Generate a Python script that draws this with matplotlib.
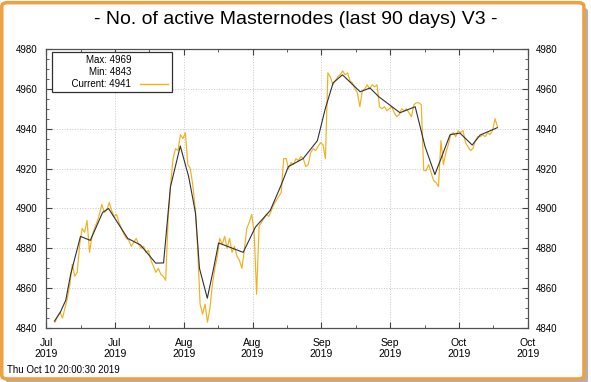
import matplotlib
matplotlib.use("Agg")
import matplotlib.pyplot as plt
import matplotlib.dates as mdates
from matplotlib.lines import Line2D
from matplotlib.patches import FancyBboxPatch
import numpy as np
import pandas as pd

plt.rcParams['font.family'] = ['Liberation Sans', 'DejaVu Sans']

# raw samples, one every 12 hours, first one Jul 11 20:00, last one Oct 10 20:00
raw_start = "2019-07-11 20:00"
raw_values = [
    4843, 4846, 4848, 4845, 4850, 4855, 4862, 4872, 4866, 4868,
    4882, 4890, 4888, 4894, 4878, 4886, 4890, 4893, 4897, 4902,
    4898, 4899, 4903, 4899, 4896, 4897, 4893, 4890, 4887, 4885,
    4884, 4881, 4883, 4885, 4882, 4880, 4881, 4878, 4879, 4874,
    4871, 4868, 4870, 4867, 4866, 4864, 4895, 4912, 4925, 4930,
    4929, 4937, 4935, 4938, 4922, 4920, 4912, 4900, 4880, 4852,
    4847, 4852, 4843, 4850, 4862, 4870, 4876, 4885, 4882, 4886,
    4880, 4885, 4878, 4881, 4876, 4874, 4870, 4879, 4890, 4893,
    4897, 4888, 4857, 4891, 4893, 4895, 4897, 4896, 4899, 4902,
    4904, 4906, 4908, 4925, 4925, 4920, 4923, 4922, 4925, 4924,
    4926, 4925, 4921, 4922, 4928, 4930, 4929, 4931, 4933, 4932,
    4925, 4968, 4966, 4962, 4964, 4966, 4967, 4969, 4967, 4968,
    4964, 4963, 4960, 4958, 4951, 4959, 4960, 4962, 4960, 4962,
    4961, 4962, 4951, 4950, 4951, 4949, 4950, 4951, 4948, 4946,
    4947, 4950, 4949, 4950, 4948, 4946, 4952, 4953, 4953, 4952,
    4919, 4919, 4922, 4918, 4914, 4913, 4911, 4934, 4922, 4928,
    4932, 4937, 4938, 4936, 4939, 4938, 4939, 4933, 4931, 4929,
    4930, 4934, 4936, 4936, 4937, 4936, 4938, 4937, 4939, 4945,
    4941,
]

# smoothed line: days after Jul 10 and value
smooth_days = [1.7, 2.9, 4.0, 5.0, 7.0, 9.0, 11.5, 12.7, 16.6, 19.2,
               22.3, 23.9, 25.3, 27.3, 29.0, 30.4, 31.2, 32.8, 34.0, 35.1,
               40.1, 42.6, 45.6, 47.7, 49.3, 52.3, 55.2, 56.8, 58.4, 60.3,
               63.9, 65.9, 67.7, 72.0, 75.1, 77.1, 79.1, 82.2, 84.2, 86.7,
               88.3, 91.8]
smooth_values = [4843.5, 4848, 4854, 4867, 4886, 4884, 4898, 4900, 4885, 4881.7,
                 4872.6, 4872.7, 4910.8, 4931.3, 4916, 4897.7, 4870, 4855, 4869, 4882.7,
                 4878, 4890.7, 4899, 4911, 4921, 4925, 4934, 4950, 4963, 4967,
                 4958.5, 4960.4, 4956, 4948, 4951, 4931, 4917, 4937, 4937.8, 4931.8,
                 4936.8, 4940.5]

tick_dates = ["2019-07-10", "2019-07-24", "2019-08-07", "2019-08-21",
              "2019-09-04", "2019-09-18", "2019-10-02", "2019-10-16"]

stamp = "Thu Oct 10 20:00:30 2019"

raw_t = pd.Timestamp(raw_start) + pd.to_timedelta(np.arange(len(raw_values)) * 12, unit="h")
smooth_t = pd.Timestamp("2019-07-10") + pd.to_timedelta(smooth_days, unit="D")
ticks = pd.to_datetime(tick_dates)

fig = plt.figure(figsize=(5.91, 3.82), dpi=100)
fig.patch.set_facecolor("white")

# orange frame with a soft shadow
shadow = FancyBboxPatch((0.010, -0.005), 0.985, 0.985, boxstyle="round,pad=0,rounding_size=0.01",
                        transform=fig.transFigure, facecolor="#b0b0b0", edgecolor="none", zorder=-3)
frame = FancyBboxPatch((0.003, 0.008), 0.985, 0.985, boxstyle="round,pad=0,rounding_size=0.01",
                       transform=fig.transFigure, facecolor="white", edgecolor="#f0a040",
                       linewidth=2.5, zorder=-2)
fig.patches.extend([shadow, frame])

ax = fig.add_axes([0.078, 0.141, 0.815, 0.731])
ax.set_facecolor("none")

ax.plot(raw_t, raw_values, color="#f2b01e", lw=0.85, zorder=2)
ax.plot(smooth_t, smooth_values, color="#30303c", lw=0.8, zorder=3)

ax.set_xlim(ticks[0], ticks[-1])
ax.set_ylim(4840, 4980)
ax.set_xticks(ticks)
ax.xaxis.set_major_formatter(mdates.DateFormatter("%b\n%Y"))
ax.set_xticks(ticks[:-1] + pd.Timedelta(days=7), minor=True)
ax.set_yticks(np.arange(4840, 4981, 20))
ax.set_yticks(np.arange(4840, 4981, 5), minor=True)

ax.grid(True, which="major", color="#c8c8c8", linestyle=":", linewidth=0.7)
ax.tick_params(which="both", direction="in", top=True, right=True, labelright=True,
               labelsize=7, color="#404040", pad=6)
ax.tick_params(which="major", length=4.5)
ax.tick_params(which="minor", length=2.5)
ax.tick_params(axis="x", labelsize=7.5, pad=7)
for s in ax.spines.values():
    s.set_color("#505050")
    s.set_linewidth(0.9)

handles = [Line2D([], [], color="none"), Line2D([], [], color="none"),
           Line2D([], [], color="#f2b01e", lw=1)]
# leading spaces keep the box as wide as the original key
labels = ["Max: %d" % max(raw_values), "Min: %d" % min(raw_values),
          "      Current: %d" % raw_values[-1]]
leg = ax.legend(handles, labels, loc="upper left", bbox_to_anchor=(0.012, 0.99), markerfirst=False,
                fontsize=7, fancybox=False, framealpha=1, edgecolor="#303030",
                handlelength=2.9, labelspacing=0.2, borderpad=0.35, handletextpad=0.9,
                borderaxespad=0)
leg.get_frame().set_linewidth(0.9)

fig.text(0.5, 0.948, "- No. of active Masternodes (last 90 days) V3 -", ha="center", va="center", fontsize=14)
fig.text(0.012, 0.032, stamp, ha="left", va="center", fontsize=7)

fig.savefig("out.png", dpi=100)
